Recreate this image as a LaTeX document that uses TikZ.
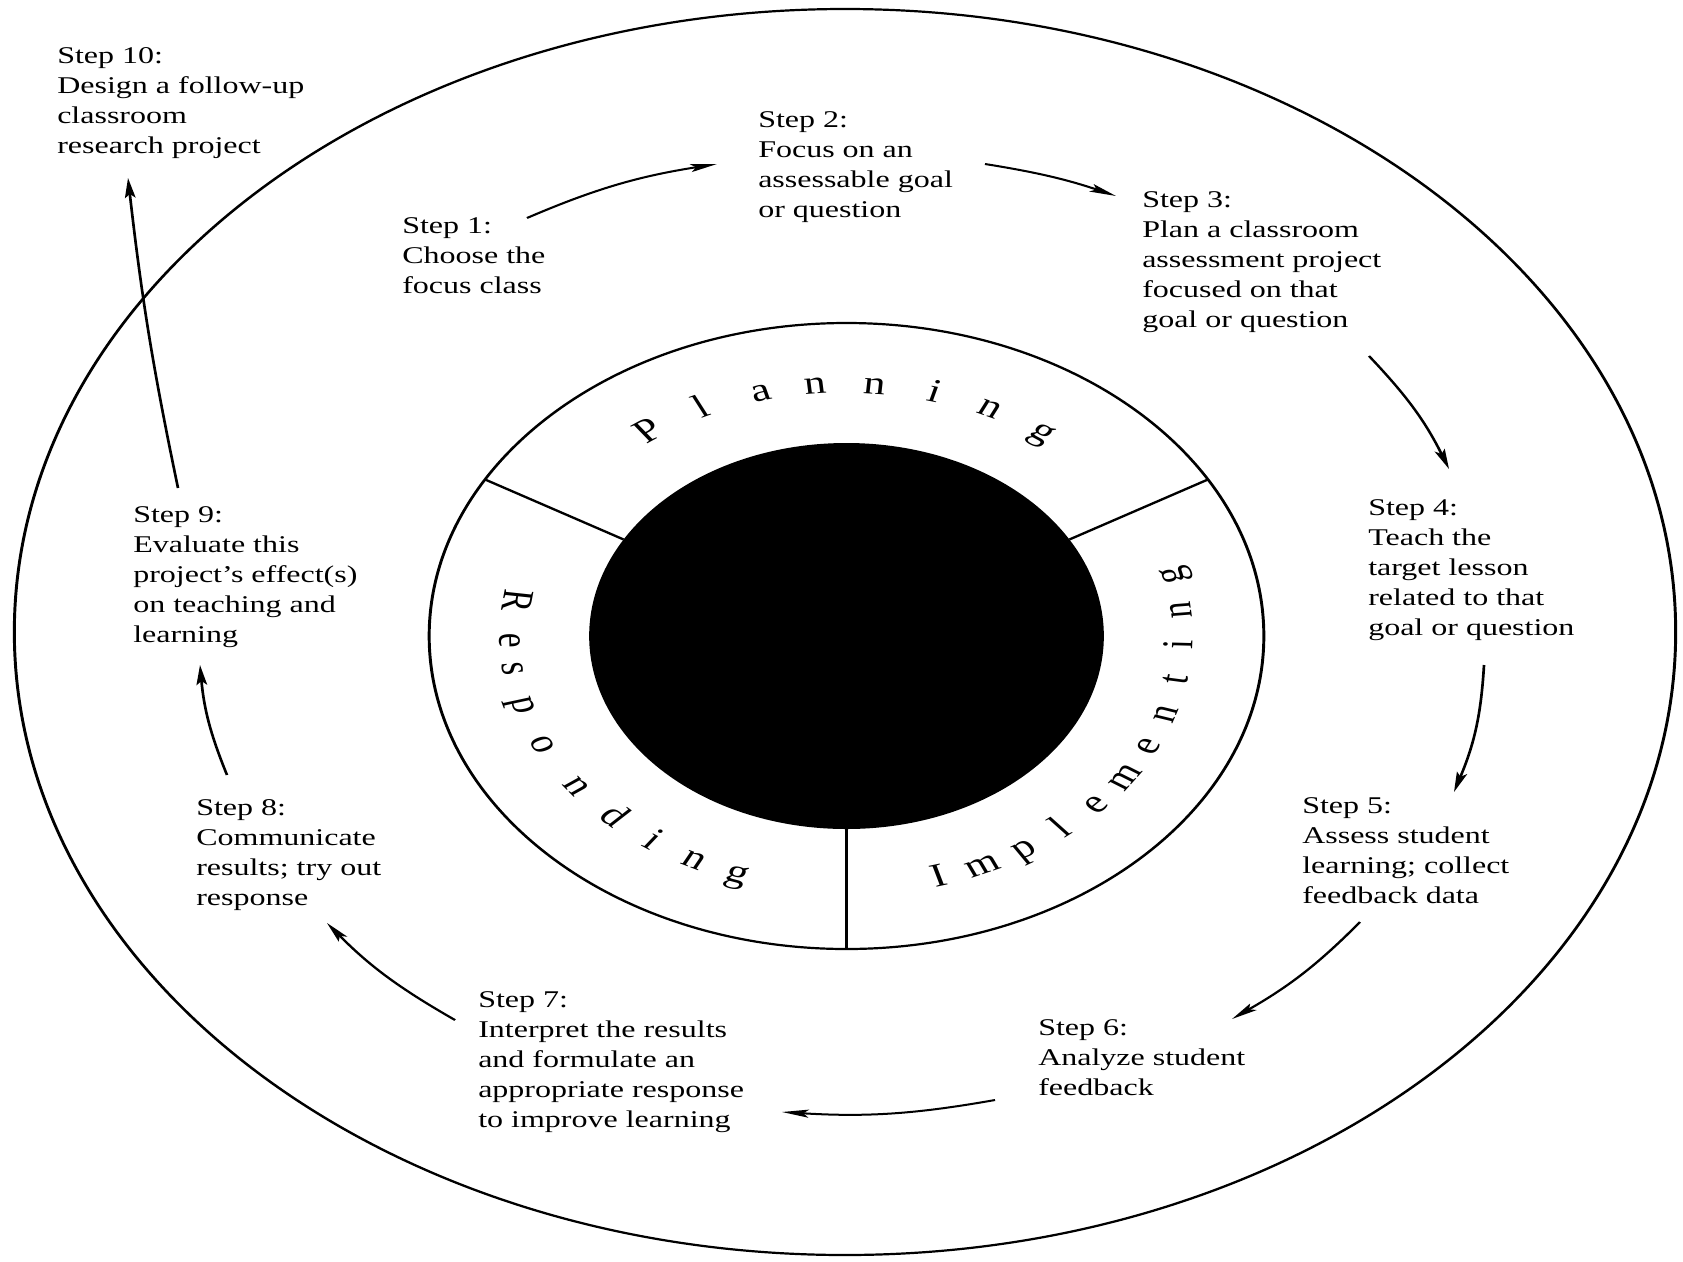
\documentclass[tikz,border=0pt]{standalone}
\usepackage{fontspec}
\setmainfont{Liberation Serif}
\usetikzlibrary{arrows.meta,calc}
\tikzset{
  steptext/.style={anchor=north west, inner sep=0pt, align=left, font=\fontsize{24}{30}\selectfont},
  ringletter/.style={inner sep=0pt, anchor=base, font=\fontsize{33}{40}\selectfont},
  cyclearrow/.style={line width=2pt, -{Stealth[length=20pt,width=8pt,inset=4pt]}},
  ringline/.style={line width=2.2pt},
}
\begin{document}
\begin{tikzpicture}
\useasboundingbox (0pt,0pt) rectangle (1683pt,-1261pt);
\fill[white] (0pt,0pt) rectangle (1683pt,-1261pt);
\begin{scope}[transform canvas={xscale=1.333333}, x=0.75pt, y=-1pt]
  % centres
  \coordinate (O) at (845,632);
  \coordinate (C) at (846.5,636);
  % outer ellipse, black core, ring
  \draw[ringline] (O) circle[radius=623pt];
  \fill[black] (C) circle[radius=193pt];
  \draw[ringline] (C) circle[radius=313pt];
  \foreach \a [count=\i] in {30,150,270}
    \draw[ringline] ($(C)+(\a:193pt)$) coordinate (din\i) -- ($(C)+(\a:313pt)$) coordinate (dout\i);
  % ring words
  \foreach \l/\a [count=\i] in {P/126,l/115.6,a/104.8,n/95.4,n/85.2,i/74.9,n/64.7,g/54.2}
    \node[ringletter, rotate=\a-90] (pln\i) at ($(C)+(\a:243pt)$) {\l};
  \foreach \l/\a [count=\i] in {I/286,m/294,p/302,l/310,e/318,m/326,e/334,n/342,t/350,i/358,n/366,g/374}
    \node[ringletter, rotate=\a+90] (imp\i) at ($(C)+(\a:260pt)$) {\l};
  \foreach \l/\a [count=\i] in {R/172,e/181,s/187.5,p/196,o/205.5,n/216.5,d/226,i/234.5,n/243,g/251}
    \node[ringletter, rotate=\a+90] (rsp\i) at ($(C)+(\a:260pt)$) {\l};
  % step texts
  \node[steptext] (s10) at (57,47.7) {Step 10:\\Design a follow-up\\classroom\\research project};
  \node[steptext] (s1) at (402,217.7) {Step 1:\\Choose the\\focus class};
  \node[steptext] (s2) at (758,111.7) {Step 2:\\Focus on an\\assessable goal\\or question};
  \node[steptext] (s3) at (1142,191.7) {Step 3:\\Plan a classroom\\assessment project\\focused on that\\goal or question};
  \node[steptext] (s4) at (1368,499.7) {Step 4:\\Teach the\\target lesson\\related to that\\goal or question};
  \node[steptext] (s5) at (1302,797.7) {Step 5:\\Assess student\\learning; collect\\feedback data};
  \node[steptext] (s6) at (1038,1019.7) {Step 6:\\Analyze student\\feedback};
  \node[steptext] (s7) at (478,991.7) {Step 7:\\Interpret the results\\and formulate an\\appropriate response\\to improve learning};
  \node[steptext] (s8) at (196,799.7) {Step 8:\\Communicate\\results; try out\\response};
  \node[steptext] (s9) at (133,506.7) {Step 9:\\Evaluate this\\project’s effect(s)\\on teaching and\\learning};
  % arrow end points
  \coordinate (a1s) at (527,218);  \coordinate (a1e) at (717,164);
  \coordinate (a2s) at (985,164);  \coordinate (a2e) at (1116,196);
  \coordinate (a3s) at (1369,356); \coordinate (a3e) at (1449,469);
  \coordinate (a4s) at (1484,665); \coordinate (a4e) at (1454,792);
  \coordinate (a5s) at (1360,922); \coordinate (a5e) at (1232,1019);
  \coordinate (a6s) at (995,1100); \coordinate (a6e) at (782,1112);
  \coordinate (a7s) at (455,1020); \coordinate (a7e) at (327,923);
  \coordinate (a8s) at (227,775);  \coordinate (a8e) at (200,665);
  \coordinate (a9s) at (178,488);  \coordinate (a9e) at (128,178);
  \draw[cyclearrow] (a1s) to[bend left=9] (a1e);
  \draw[cyclearrow] (a2s) to[bend left=6] (a2e);
  \draw[cyclearrow] (a3s) to[bend left=7.5] (a3e);
  \draw[cyclearrow] (a4s) to[bend left=7.5] (a4e);
  \draw[cyclearrow] (a5s) to[bend left=8] (a5e);
  \draw[cyclearrow] (a6s) to[bend left=9] (a6e);
  \draw[cyclearrow] (a7s) to[bend left=8] (a7e);
  \draw[cyclearrow] (a8s) to[bend left=6.5] (a8e);
  \draw[cyclearrow] (a9s) to[bend left=2] (a9e);
\end{scope}
\end{tikzpicture}
\end{document}
